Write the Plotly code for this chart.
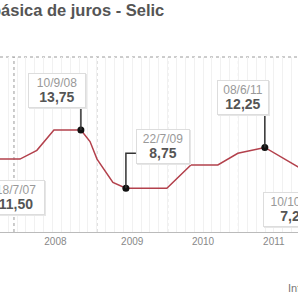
import plotly.graph_objects as go
import pandas as pd

# ---------------- data ----------------
title_text = "Taxa básica de juros - Selic"
source_text = "Infográfico"

line_dates = ["2007-07-18", "2007-08-15", "2007-12-02", "2008-02-27", "2008-05-25",
              "2008-10-11", "2008-11-27", "2009-01-02", "2009-03-25", "2009-05-31",
              "2009-12-28", "2010-05-01", "2010-09-17", "2010-12-29", "2011-05-17",
              "2012-10-10"]
line_values = [11.50, 11.25, 11.25, 12.00, 13.75,
               13.75, 12.75, 11.25, 9.25, 8.75,
               8.75, 10.75, 10.75, 11.75, 12.25,
               7.25]

marker_dates = ["2007-07-18", "2008-10-11", "2009-05-31", "2011-05-17", "2012-10-10"]
marker_values = [11.50, 13.75, 8.75, 12.25, 7.25]
marker_labels = ["18/7/07", "10/9/08", "22/7/09", "08/6/11", "10/10/12"]
marker_texts = ["11,50", "13,75", "8,75", "12,25", "7,25"]

year_divisions = ["2007-11-01", "2009-01-01", "2010-01-01", "2011-01-01", "2012-01-01"]
year_labels = ["2008", "2009", "2010", "2011"]

# ---------------- layout constants ----------------
W, H = 298, 295
TOP, BOTTOM = 57, 232          # plot area in pixels
PH = BOTTOM - TOP

def px_to_paper(x, y):
    return x / W, (BOTTOM - y) / PH

# callout box centers (pixels) and sizes
callout_pos = [(16, 197), (57, 90.5), (163, 146.5), (242.5, 97), (294, 209.5)]
callout_w = [52, 52, 48, 46, 56]
# leader paths (pixel offsets from the marker, y up)
leaders = {1: "M0,0 L0,23", 2: "M0,0 L0,35 L10,35", 3: "M0,0 L0,33"}

div = pd.to_datetime(year_divisions)
year_ticks = [(div[i] + (div[i + 1] - div[i]) / 2) for i in range(len(year_labels))]

fig = go.Figure()

fig.add_trace(go.Scatter(
    x=line_dates, y=line_values, mode="lines",
    line=dict(color="#b3414c", width=1.5),
    hoverinfo="skip", showlegend=False,
))
fig.add_trace(go.Scatter(
    x=marker_dates, y=marker_values, mode="markers",
    marker=dict(color="#111111", size=7),
    hoverinfo="skip", showlegend=False,
))

shapes = []
# dotted year divisions
for d in year_divisions:
    shapes.append(dict(type="line", xref="x", yref="paper", x0=d, x1=d, y0=0, y1=1,
                       line=dict(color="#9a9a9a", width=1, dash="dot"), layer="below"))
# dotted top border
shapes.append(dict(type="line", xref="paper", yref="paper", x0=0, x1=1, y0=1, y1=1,
                   line=dict(color="#9a9a9a", width=1, dash="dot"), layer="below"))
# leader lines
for i, path in leaders.items():
    shapes.append(dict(type="path", xref="x", yref="y",
                       xsizemode="pixel", ysizemode="pixel",
                       xanchor=marker_dates[i], yanchor=marker_values[i],
                       path=path, line=dict(color="#333333", width=1.5)))

annotations = []
for i, (lab, val) in enumerate(zip(marker_labels, marker_texts)):
    px, py = callout_pos[i]
    ax_, ay_ = px_to_paper(px, py)
    # soft shadow
    sx_, sy_ = px_to_paper(px + 1, py + 1)
    annotations.append(dict(
        xref="paper", yref="paper", x=sx_, y=sy_, xanchor="center", yanchor="middle",
        text=" ", showarrow=False,
        font=dict(size=12), bgcolor="#ececec", bordercolor="#e6e6e6", borderwidth=1, borderpad=2,
        width=callout_w[i], height=29,
    ))
    annotations.append(dict(
        xref="paper", yref="paper", x=ax_, y=ay_, xanchor="center", yanchor="middle",
        text=f"<span style='color:#999999'>{lab}</span><br>"
             f"<span style='color:#555555;font-size:14px'><b>{val}</b></span>",
        showarrow=False, align="center",
        font=dict(family="Liberation Sans, Arial", size=12, color="#999999"),
        bgcolor="white", bordercolor="#dddddd", borderwidth=1, borderpad=2,
        width=callout_w[i], height=29,
    ))

tx, ty = px_to_paper(-52, 10)
annotations.append(dict(
    xref="paper", yref="paper", x=tx, y=ty, xanchor="left", yanchor="middle",
    text=f"<b>{title_text}</b>", showarrow=False,
    font=dict(family="Liberation Sans, Arial", size=16.5, color="#555555"),
))
sx, sy = px_to_paper(286, 288)
annotations.append(dict(
    xref="paper", yref="paper", x=sx, y=sy, xanchor="left", yanchor="middle",
    text=source_text, showarrow=False,
    font=dict(family="Liberation Sans, Arial", size=11, color="#777777"),
))

# faint background grid: about eight lines per year
grid_step_ms = 365.25 / 8 * 86400000

fig.update_layout(
    width=W, height=H,
    margin=dict(l=0, r=0, t=TOP, b=H - BOTTOM, pad=0),
    paper_bgcolor="white", plot_bgcolor="white",
    shapes=shapes, annotations=annotations,
    xaxis=dict(
        type="date", range=["2007-08-21", "2011-11-04"],
        tickmode="array", tickvals=year_ticks, ticktext=year_labels,
        showgrid=False, zeroline=False,
        showline=True, linecolor="#bbbbbb", linewidth=1,
        ticks="", tickfont=dict(family="Liberation Sans, Arial", size=10, color="#888888"),
        minor=dict(tickmode="linear", dtick=grid_step_ms, tick0="2009-01-01",
                   showgrid=True, gridcolor="#f1f1f1", gridwidth=1),
        fixedrange=True,
    ),
    yaxis=dict(range=[5, 20], visible=False, showgrid=False, zeroline=False, fixedrange=True),
)

fig.write_html("out.html")
